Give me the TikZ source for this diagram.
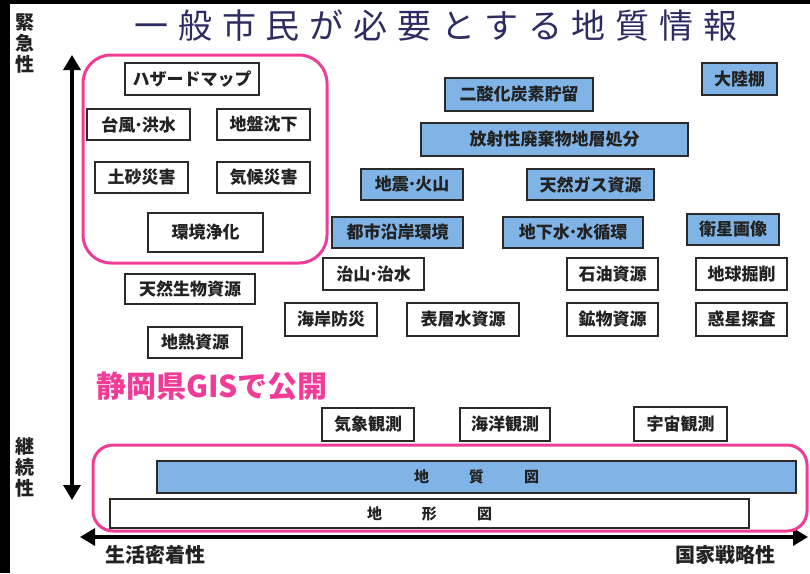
\documentclass[tikz,border=0pt]{standalone}
\usepackage{fontspec}
\setmainfont{Noto Sans CJK JP}
\usetikzlibrary{arrows.meta}
\definecolor{bluef}{HTML}{80B4E6}
\definecolor{boxline}{HTML}{2A2A2A}
\definecolor{textc}{HTML}{222222}
\definecolor{pinkc}{HTML}{F03C96}
\definecolor{titlec}{HTML}{2C2C62}
\newcommand{\mdot}{\hspace{-1pt}･\hspace{-1pt}}
\tikzset{
  box/.style={draw=boxline, line width=1.8pt, text=textc, inner sep=0pt,
    font=\bfseries\fontsize{17}{20}\selectfont},
  wbox/.style={box, fill=white},
  bbox/.style={box, fill=bluef},
  pinkframe/.style={draw=pinkc, line width=3pt},
  axis/.style={line width=3.2pt, draw=black, {Triangle[width=17pt,length=15pt]}-{Triangle[width=17pt,length=15pt]}},
  sidelabel/.style={font=\bfseries\fontsize{19}{21}\selectfont, text=textc, align=center},
  bottomlabel/.style={font=\bfseries\fontsize{20}{22}\selectfont, text=textc},
}
\begin{document}
\begin{tikzpicture}[x=1pt,y=-1pt]
\useasboundingbox (0,0) rectangle (810,573);
\fill[white] (0,0) rectangle (810,573);
\fill[black] (0,0) rectangle (10,573);
\fill[black] (0,0) rectangle (810,4);

% title
\node[font=\fontsize{34}{36}\selectfont\addfontfeature{LetterSpace=29}, text=titlec] (title) at (436,26) {一般市民が必要とする地質情報};

% side labels
\node[sidelabel] (kinkyu) at (25,44) {緊\\急\\性};
\node[sidelabel] (keizoku) at (25,467) {継\\続\\性};
\node[bottomlabel] (seikatsu) at (155,555) {生活密着性};
\node[bottomlabel] (kokka) at (725,555) {国家戦略性};

% axes
\coordinate (vtop) at (72,55);
\coordinate (vbot) at (72,500);
\coordinate (hleft) at (80,537);
\coordinate (hright) at (808,537);
\draw[axis] (vbot) -- (vtop);
\draw[axis] (hleft) -- (hright);

% pink frames
\draw[pinkframe, rounded corners=28pt, fill=white] (83,55) rectangle (327,263);
\draw[pinkframe, rounded corners=20pt, fill=white] (93,445) rectangle (807,531);

% white boxes
\node[wbox, minimum width=134pt, minimum height=32pt] (haz) at (192,79) {ハザードマップ};
\node[wbox, minimum width=103pt, minimum height=31pt] (taifu) at (138.5,124.5) {台風\mdot 洪水};
\node[wbox, minimum width=93pt, minimum height=31pt] (jiban) at (263.5,124.5) {地盤沈下};
\node[wbox, minimum width=93pt, minimum height=31pt] (dosha) at (141.5,177.5) {土砂災害};
\node[wbox, minimum width=93pt, minimum height=31pt] (kiko) at (263.5,177.5) {気候災害};
\node[wbox, minimum width=115pt, minimum height=39pt] (kankyo) at (205.5,232.5) {環境浄化};
\node[wbox, minimum width=130pt, minimum height=30pt] (seibutsu) at (190,289) {天然生物資源};
\node[wbox, minimum width=101pt, minimum height=32pt] (chisan) at (373.5,274) {治山\mdot 治水};
\node[wbox, minimum width=92pt, minimum height=33pt] (kaigan) at (331,319.5) {海岸防災};
\node[wbox, minimum width=112pt, minimum height=33pt] (hyoso) at (463,319.5) {表層水資源};
\node[wbox, minimum width=94pt, minimum height=31pt] (chinetsu) at (195,342.5) {地熱資源};
\node[wbox, minimum width=91pt, minimum height=32pt] (sekiyu) at (612.5,274) {石油資源};
\node[wbox, minimum width=91pt, minimum height=32pt] (kussaku) at (741.5,274) {地球掘削};
\node[wbox, minimum width=91pt, minimum height=33pt] (kobutsu) at (612.5,319.5) {鉱物資源};
\node[wbox, minimum width=91pt, minimum height=33pt] (wakusei) at (741.5,319.5) {惑星探査};
\node[wbox, minimum width=92pt, minimum height=33pt] (kisho) at (368,424.5) {気象観測};
\node[wbox, minimum width=90pt, minimum height=33pt] (kaiyo) at (505,424.5) {海洋観測};
\node[wbox, minimum width=93pt, minimum height=34pt] (uchu) at (680.5,424) {宇宙観測};

% blue boxes
\node[bbox, minimum width=75pt, minimum height=32pt] (tairiku) at (739.5,79) {大陸棚};
\node[bbox, minimum width=148pt, minimum height=33pt] (nisanka) at (519,94.5) {二酸化炭素貯留};
\node[bbox, minimum width=267pt, minimum height=33pt] (hosha) at (554.5,139.5) {放射性廃棄物地層処分};
\node[bbox, minimum width=102pt, minimum height=31pt] (jishin) at (412,184.5) {地震\mdot 火山};
\node[bbox, minimum width=127pt, minimum height=31pt] (gas) at (590.5,184.5) {天然ガス資源};
\node[bbox, minimum width=131pt, minimum height=31pt] (toshi) at (397.5,232.5) {都市沿岸環境};
\node[bbox, minimum width=140pt, minimum height=31pt] (chikasui) at (573,232.5) {地下水\mdot 水循環};
\node[bbox, minimum width=92pt, minimum height=31pt] (eisei) at (733,229.5) {衛星画像};

% bars
\node[bbox, minimum width=639pt, minimum height=32pt, font=\bfseries\fontsize{15}{18}\selectfont] (chishitsu) at (476.5,477) {地\hspace{40pt}質\hspace{40pt}図};
\node[wbox, minimum width=639pt, minimum height=29pt, font=\bfseries\fontsize{15}{18}\selectfont] (chikei) at (429.5,513.5) {地\hspace{40pt}形\hspace{40pt}図};

% pink note
\node[font=\bfseries\fontsize{30}{32}\selectfont, text=pinkc, anchor=west, inner sep=0pt] (gis) at (96,386) {静岡県GISで公開};
\end{tikzpicture}
\end{document}
